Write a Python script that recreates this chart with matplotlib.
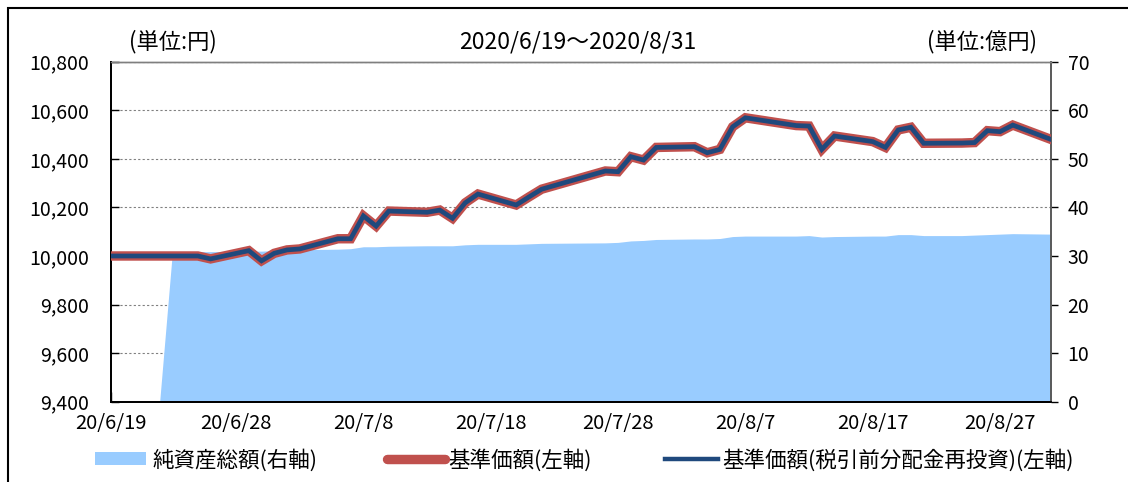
import matplotlib
matplotlib.use("Agg")
import matplotlib.pyplot as plt
import matplotlib.dates as mdates
from matplotlib.lines import Line2D
from matplotlib.patches import Patch, Rectangle
from matplotlib.ticker import FuncFormatter

plt.rcParams["font.family"] = ["Noto Sans CJK JP", "DejaVu Sans"]

# ---------------------------------------------------------------
# data
# ---------------------------------------------------------------
dates = [
    "2020-06-18", "2020-06-19", "2020-06-22", "2020-06-23", "2020-06-24",
    "2020-06-25", "2020-06-26", "2020-06-29", "2020-06-30", "2020-07-01",
    "2020-07-02", "2020-07-03", "2020-07-06", "2020-07-07", "2020-07-08",
    "2020-07-09", "2020-07-10", "2020-07-13", "2020-07-14", "2020-07-15",
    "2020-07-16", "2020-07-17", "2020-07-20", "2020-07-21", "2020-07-22",
    "2020-07-27", "2020-07-28", "2020-07-29", "2020-07-30", "2020-07-31",
    "2020-08-03", "2020-08-04", "2020-08-05", "2020-08-06", "2020-08-07",
    "2020-08-11", "2020-08-12", "2020-08-13", "2020-08-14", "2020-08-17",
    "2020-08-18", "2020-08-19", "2020-08-20", "2020-08-21", "2020-08-24",
    "2020-08-25", "2020-08-26", "2020-08-27", "2020-08-28", "2020-08-31",
]

# 基準価額 (円, left axis)
nav = [
    10000, 10000, 10000, 10000, 10000,
    10000, 9988, 10022, 9980, 10011,
    10025, 10029, 10071, 10071, 10165,
    10123, 10185, 10180, 10189, 10155,
    10219, 10255, 10210, 10243, 10275,
    10350, 10347, 10409, 10395, 10447,
    10450, 10425, 10439, 10532, 10569,
    10537, 10535, 10439, 10494, 10471,
    10447, 10519, 10530, 10464, 10465,
    10467, 10516, 10512, 10539, 10480,
]

# 基準価額(税引前分配金再投資) (円, left axis) - no distributions, same path
nav_reinvested = list(nav)

# 純資産総額 (億円, right axis)
net_assets = [
    0, 0, 0, 30.8, 30.8,
    30.9, 30.9, 31.0, 31.0, 31.1,
    31.2, 31.3, 31.4, 31.5, 31.9,
    31.9, 32.0, 32.1, 32.1, 32.1,
    32.3, 32.4, 32.4, 32.5, 32.6,
    32.7, 32.8, 33.1, 33.2, 33.4,
    33.5, 33.5, 33.6, 34.0, 34.1,
    34.1, 34.2, 33.9, 34.0, 34.1,
    34.1, 34.4, 34.4, 34.2, 34.2,
    34.3, 34.4, 34.5, 34.6, 34.5,
]

tick_dates = ["2020-06-28", "2020-07-08", "2020-07-18", "2020-07-28",
              "2020-08-07", "2020-08-17", "2020-08-27"]
tick_labels = ["20/6/19", "20/6/28", "20/7/8", "20/7/18", "20/7/28",
               "20/8/7", "20/8/17", "20/8/27"]

title_text = "2020/6/19〜2020/8/31"
left_unit = "(単位:円)"
right_unit = "(単位:億円)"
legend_labels = ["純資産総額(右軸)", "基準価額(左軸)", "基準価額(税引前分配金再投資)(左軸)"]

# ---------------------------------------------------------------
# style
# ---------------------------------------------------------------
AREA = "#99CCFF"
RED = "#C0504D"
BLUE = "#1F497D"
GRID = "#808080"
TXT = "#000000"

W, H = 1128, 482
fig = plt.figure(figsize=(W / 100, H / 100), dpi=100, facecolor="white")

x = mdates.datestr2num(dates)
x_left = mdates.datestr2num("2020-06-18") + 0.18
x_right = mdates.datestr2num("2020-08-31")

# ax carries the area (right scale), ax2 carries the lines (left scale)
ax = fig.add_axes([111 / W, 1 - 401.7 / H, (1051 - 111) / W, 340 / H])
ax2 = ax.twinx()

ax.fill_between(x, net_assets, 0, color=AREA, linewidth=0, zorder=1)
ax.set_ylim(0, 70)
ax.set_yticks(range(0, 71, 10))
ax.grid(axis="y", color=GRID, linestyle=(0, (2, 2)), linewidth=0.8)
ax.set_axisbelow(True)

ax2.plot(x, nav, color=RED, linewidth=6.8, solid_joinstyle="miter", zorder=3)
ax2.plot(x, nav_reinvested, color=BLUE, linewidth=3.4, solid_joinstyle="miter", zorder=4)
ax2.set_ylim(9400, 10800)
ax2.set_yticks(range(9400, 10801, 200))
ax2.yaxis.set_major_formatter(FuncFormatter(lambda v, p: f"{int(v):,}"))

ax.set_xlim(x_left, x_right)
ax.set_xticks([x_left] + list(mdates.datestr2num(tick_dates)))
ax.set_xticklabels(tick_labels)

# swap sides: left labels for yen, right labels for 億円
ax.yaxis.tick_right()
ax2.yaxis.tick_left()

ax.tick_params(axis="x", direction="in", length=7, width=1, pad=8,
               labelsize=14.5, colors=TXT)
ax.tick_params(axis="y", direction="out", length=5, width=1, pad=7,
               labelsize=14, colors=TXT)
ax2.tick_params(axis="y", direction="in", length=6, width=1, pad=16,
                labelsize=14, colors=TXT)

for a in (ax, ax2):
    a.spines["left"].set_color("#000000")
    a.spines["left"].set_linewidth(1.3)
    a.spines["bottom"].set_color("#000000")
    a.spines["bottom"].set_linewidth(1.3)
    a.spines["right"].set_color("#595959")
    a.spines["right"].set_linewidth(1.2)
    a.spines["top"].set_color("#7F7F7F")
    a.spines["top"].set_linewidth(1.0)

# header texts
fig.text(129 / W, 1 - 42 / H, left_unit, ha="left", va="center",
         fontsize=16, color=TXT)
fig.text(578 / W, 1 - 42 / H, title_text, ha="center", va="center",
         fontsize=16.5, color=TXT)
fig.text(1037 / W, 1 - 42 / H, right_unit, ha="right", va="center",
         fontsize=16, color=TXT)

# legend, one entry each so they sit where the reference has them
leg_y = 1 - 460 / H
handles = [
    Patch(facecolor=AREA, edgecolor="none"),
    Line2D([], [], color=RED, linewidth=6.8, solid_capstyle="round"),
    Line2D([], [], color=BLUE, linewidth=3.2),
]
leg_x = [95, 387, 665]
leg_len = [2.35, 2.7, 2.45]
leg_pad = [0.3, 0.15, 0.2]
for h, lab, lx, hl, tp in zip(handles, legend_labels, leg_x, leg_len, leg_pad):
    fig.legend([h], [lab], loc="center left", bbox_to_anchor=(lx / W, leg_y),
               frameon=False, fontsize=15.5, handlelength=hl, handleheight=0.53,
               handletextpad=tp, borderpad=0, borderaxespad=0)

# outer frame of the original chart
fig.add_artist(Rectangle((8 / W, -0.5), 2.0, 1.5 - 8 / H,
                         transform=fig.transFigure, fill=False,
                         edgecolor="#000000", linewidth=1.5))

fig.savefig("out.png", dpi=100, facecolor="white")
plt.close(fig)
